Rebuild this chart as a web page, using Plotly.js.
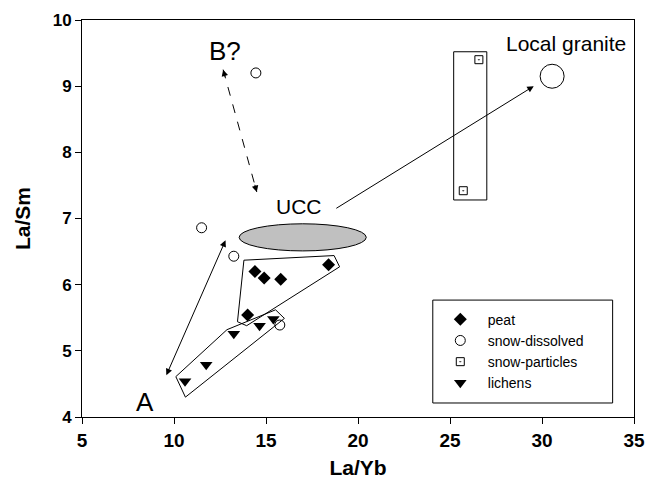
<!DOCTYPE html>
<html>
<head>
<meta charset="utf-8">
<script src="https://cdn.plot.ly/plotly-3.0.1.min.js"></script>
<style>html,body{margin:0;padding:0;background:#fff;}#chart{width:650px;height:479px;}</style>
</head>
<body>
<div id="chart"></div>
<script>
// ---- data ----
const seriesNames = ["peat", "snow-dissolved", "snow-particles", "lichens"];
const peatX = [14.4, 14.9, 15.8, 18.4, 14.0];
const peatY = [6.20, 6.10, 6.08, 6.30, 5.54];
const snowDissolvedX = [14.45, 11.5, 13.25, 15.75];
const snowDissolvedY = [9.20, 6.86, 6.43, 5.39];
const snowParticlesX = [26.57, 25.72];
const snowParticlesY = [9.40, 7.42];
const lichensX = [10.6, 11.75, 13.25, 14.65, 15.4];
const lichensY = [4.54, 4.79, 5.26, 5.38, 5.48];
const graniteX = [30.55];
const graniteY = [9.15];
const xTicks = [5, 10, 15, 20, 25, 30, 35];
const yTicks = [4, 5, 6, 7, 8, 9, 10];

const FONT = "Liberation Sans, Arial, Helvetica, sans-serif";

const traces = [
  {x: peatX, y: peatY, name: seriesNames[0], type: "scatter", mode: "markers",
   marker: {symbol: "diamond", size: 10, color: "#000"}},
  {x: snowDissolvedX, y: snowDissolvedY, name: seriesNames[1], type: "scatter", mode: "markers",
   marker: {symbol: "circle-open", size: 10, color: "#000", line: {width: 1}}},
  {x: snowParticlesX, y: snowParticlesY, name: seriesNames[2], type: "scatter", mode: "markers",
   marker: {symbol: "square-open-dot", size: 8, color: "#000", line: {width: 1}}},
  {x: lichensX, y: lichensY, name: seriesNames[3], type: "scatter", mode: "markers",
   marker: {symbol: "triangle-down", size: 11, color: "#000"}},
  {x: graniteX, y: graniteY, name: "Local granite", type: "scatter", mode: "markers", showlegend: false,
   marker: {symbol: "circle-open", size: 24, color: "#000", line: {width: 1}}}
];

const thin = {color: "#000", width: 1};
const shapes = [
  // UCC field
  {type: "circle", xref: "x", yref: "y", x0: 13.54, x1: 20.45, y0: 6.51, y1: 6.92,
   fillcolor: "#c0c0c0", line: thin},
  // peat field
  {type: "path", xref: "x", yref: "y", path: "M13.8,6.37 L18.7,6.44 L19.0,6.27 L13.95,5.38 L13.45,5.44 Z", line: thin},
  // lichens field
  {type: "path", xref: "x", yref: "y", path: "M10.1,4.61 L10.62,4.30 L16.0,5.49 L15.52,5.62 L12.88,5.32 Z", line: thin},
  // snow particles field
  {type: "rect", xref: "x", yref: "y", x0: 25.2, x1: 27.0, y0: 7.28, y1: 9.52, line: thin},
  // dashed B? link
  {type: "line", xref: "x", yref: "y", x0: 12.67, y0: 9.25, x1: 14.5, y1: 7.40,
   line: {color: "#000", width: 1, dash: "dash"}},
  // legend frame
  {type: "rect", xref: "paper", yref: "paper", x0: 0.6355, x1: 0.9613, y0: 0.0353, y1: 0.2945, line: thin}
];

const txt = (text, x, y, size) => ({text, x, y, xref: "x", yref: "y", showarrow: false,
  font: {family: FONT, size, color: "#000"}, xanchor: "center", yanchor: "middle"});
const arrow = (x, y, ax, ay, both) => ({x, y, ax, ay, xref: "x", yref: "y", axref: "x", ayref: "y",
  text: "", showarrow: true, arrowhead: 2, arrowsize: 1.3, arrowwidth: 1, arrowcolor: "#000",
  arrowside: both ? "end+start" : "end", startarrowhead: 2, startarrowsize: 1.3, standoff: 0, startstandoff: 0});
const head = (x, y, ax, ay) => ({x, y, ax, ay, xref: "x", yref: "y", text: "", showarrow: true,
  arrowhead: 2, arrowsize: 1.3, arrowwidth: 1, arrowcolor: "#000", standoff: 0});

const annotations = [
  txt("B?", 12.75, 9.53, 26),
  txt("UCC", 16.8, 7.18, 21),
  txt("Local granite", 31.3, 9.65, 21),
  txt("A", 8.45, 4.22, 26),
  arrow(12.8, 6.67, 9.55, 4.61, true),
  arrow(29.55, 9.0, 18.74, 7.14, false),
  head(12.67, 9.25, 2.4, 8.7),
  head(14.5, 7.40, -2.4, -8.7)
];

const layout = {
  width: 650, height: 479,
  margin: {l: 82, r: 16, t: 20, b: 62, pad: 0},
  paper_bgcolor: "#fff", plot_bgcolor: "#fff",
  font: {family: FONT, color: "#000"},
  showlegend: true,
  legend: {x: 0.6355, y: 0.2855, xanchor: "left", yanchor: "top", bgcolor: "rgba(0,0,0,0)",
    borderwidth: 0, itemwidth: 45, font: {family: FONT, size: 14, color: "#000"}, tracegroupgap: 0},
  xaxis: {range: [5, 35], tickvals: xTicks, ticktext: xTicks.map(String), ticks: "outside", ticklen: 6,
    tickcolor: "#000", showline: true, mirror: true, linecolor: "#000", linewidth: 1,
    showgrid: false, zeroline: false,
    tickfont: {family: FONT, size: 19, weight: "bold", color: "#000"},
    title: {text: "La/Yb", font: {family: FONT, size: 21, weight: "bold", color: "#000"}}},
  yaxis: {range: [4, 10], tickvals: yTicks, ticktext: yTicks.map(String), ticks: "outside", ticklen: 6,
    tickcolor: "#000", showline: true, mirror: true, linecolor: "#000", linewidth: 1,
    showgrid: false, zeroline: false,
    tickfont: {family: FONT, size: 17, weight: "bold", color: "#000"},
    title: {text: "La/Sm", font: {family: FONT, size: 21, weight: "bold", color: "#000"}}},
  shapes, annotations
};

Plotly.newPlot("chart", traces, layout, {displayModeBar: false, staticPlot: true});
</script>
</body>
</html>
